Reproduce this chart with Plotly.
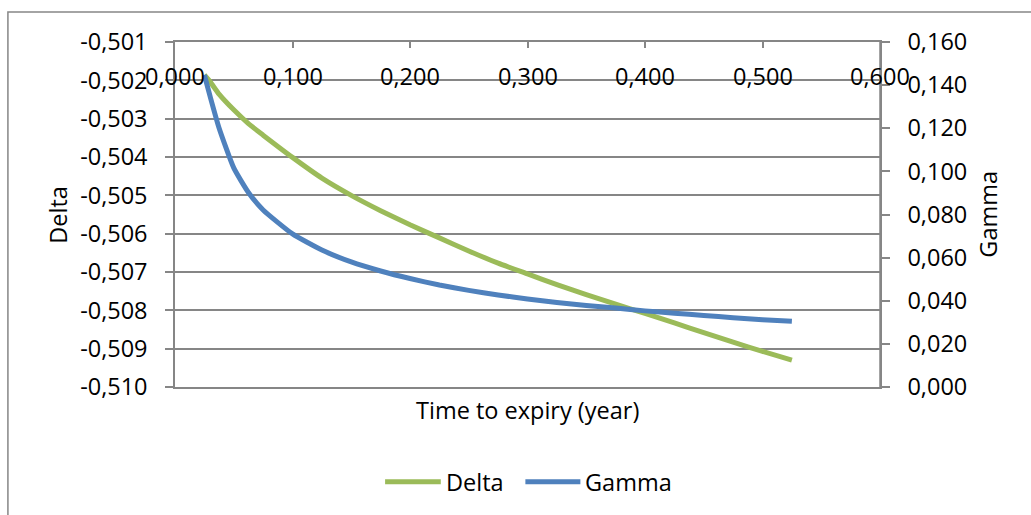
import plotly.graph_objects as go

# Time to expiry (years) and the option Greeks at each point
time_to_expiry = [0.025, 0.03, 0.0375, 0.05, 0.0625, 0.075, 0.1, 0.125, 0.15, 0.175, 0.2,
                  0.225, 0.25, 0.275, 0.3, 0.325, 0.35, 0.375, 0.4, 0.425, 0.45, 0.475,
                  0.5, 0.525]
delta = [-0.50186, -0.50204, -0.50236, -0.50277, -0.50313, -0.50343, -0.50401, -0.50455,
         -0.50500, -0.50540, -0.50577, -0.50611, -0.50645, -0.50677, -0.50705, -0.50733,
         -0.50759, -0.50784, -0.50808, -0.50833, -0.50858, -0.50883, -0.50907, -0.50930]
gamma = [0.1447, 0.1345, 0.1201, 0.1016, 0.0902, 0.0821, 0.0710, 0.0635, 0.0580, 0.0538,
         0.0503, 0.0473, 0.0448, 0.0427, 0.0408, 0.0392, 0.0378, 0.0366, 0.0353, 0.0342,
         0.0332, 0.0321, 0.0312, 0.0305]

x_ticks = [0.0, 0.1, 0.2, 0.3, 0.4, 0.5, 0.6]
delta_ticks = [-0.510, -0.509, -0.508, -0.507, -0.506, -0.505, -0.504, -0.503, -0.502, -0.501]
gamma_ticks = [0.0, 0.02, 0.04, 0.06, 0.08, 0.10, 0.12, 0.14, 0.16]

GREEN = "#9BBB59"
BLUE = "#4F81BD"
GRID = "#868686"
FONT = "Open Sans"
FS = 23.5


def comma(v):
    # worksheet-style number: three decimals, decimal comma, ASCII hyphen for minus
    return f"{v:.3f}".replace(".", ",")


fig = go.Figure()
fig.add_trace(go.Scatter(x=time_to_expiry, y=delta, name="Delta", mode="lines",
                         line=dict(color=GREEN, width=5, shape="spline", smoothing=0.5),
                         yaxis="y", showlegend=False))
fig.add_trace(go.Scatter(x=time_to_expiry, y=gamma, name="Gamma", mode="lines",
                         line=dict(color=BLUE, width=5, shape="spline", smoothing=0.5),
                         yaxis="y2", showlegend=False))

# x tick labels sit on the -0,502 level, as in the worksheet chart
annotations = [dict(x=v, y=-0.502, xref="x", yref="y", text=comma(v), showarrow=False,
                    xanchor="center", yanchor="middle", yshift=4,
                    font=dict(family=FONT, size=FS, color="#000000")) for v in x_ticks]

annotations += [
    dict(x=0.5, y=-0.068, xref="paper", yref="paper", text="Time to expiry (year)",
         showarrow=False, xanchor="center", yanchor="middle",
         font=dict(family=FONT, size=FS, color="#000000")),
    dict(x=-0.167, y=0.5, xref="paper", yref="paper", text="Delta", textangle=-90,
         showarrow=False, xanchor="center", yanchor="middle",
         font=dict(family=FONT, size=FS, color="#000000")),
    dict(x=1.152, y=0.5, xref="paper", yref="paper", text="Gamma", textangle=-90,
         showarrow=False, xanchor="center", yanchor="middle",
         font=dict(family=FONT, size=FS, color="#000000")),
]

# legend entries
legend_items = [("Delta", GREEN, 0.298, 0.377), ("Gamma", BLUE, 0.497, 0.575)]
shapes = []
for name, color, x0, x1 in legend_items:
    shapes.append(dict(type="line", xref="paper", yref="paper", x0=x0, x1=x1,
                       y0=-0.2745, y1=-0.2745, line=dict(color=color, width=5)))
    annotations.append(dict(x=x1 + 0.004, y=-0.2745, xref="paper", yref="paper", text=name,
                            showarrow=False, xanchor="left", yanchor="middle",
                            font=dict(family=FONT, size=FS, color="#000000")))

# chart-area frame
shapes.append(dict(type="rect", xref="paper", yref="paper", x0=-0.237, x1=1.3,
                   y0=-0.45, y1=1.087, line=dict(color=GRID, width=1.5), layer="below"))
# right edge of plot area
shapes.append(dict(type="line", xref="paper", yref="paper", x0=1, x1=1, y0=0, y1=1,
                   line=dict(color=GRID, width=1.5)))

fig.update_layout(
    width=1031, height=515,
    margin=dict(l=175, r=151, t=42, b=128),
    paper_bgcolor="white", plot_bgcolor="white",
    font=dict(family=FONT, size=FS, color="#000000"),
    xaxis=dict(range=[0, 0.6], tickvals=x_ticks, side="top", showticklabels=False,
               ticks="inside", ticklen=6, tickcolor=GRID, tickwidth=1.5,
               showline=True, linecolor=GRID, linewidth=1.5, mirror=True,
               showgrid=False, zeroline=False),
    yaxis=dict(range=[delta_ticks[0], delta_ticks[-1]], tickvals=delta_ticks,
               ticktext=[comma(v) for v in delta_ticks],
               ticks="outside", ticklen=8, tickcolor=GRID, tickwidth=1.5,
               ticklabelstandoff=13,
               showline=True, linecolor=GRID, linewidth=1.5,
               showgrid=True, gridcolor=GRID, gridwidth=1.5, zeroline=False),
    yaxis2=dict(range=[gamma_ticks[0], gamma_ticks[-1]], tickvals=gamma_ticks,
                ticktext=[comma(v) for v in gamma_ticks],
                overlaying="y", side="right", anchor="x",
                ticks="outside", ticklen=8, tickcolor=GRID, tickwidth=1.5,
                ticklabelstandoff=13,
                showline=True, linecolor=GRID, linewidth=1.5,
                showgrid=False, zeroline=False),
    annotations=annotations,
    shapes=shapes,
)

fig.write_html("out.html")
